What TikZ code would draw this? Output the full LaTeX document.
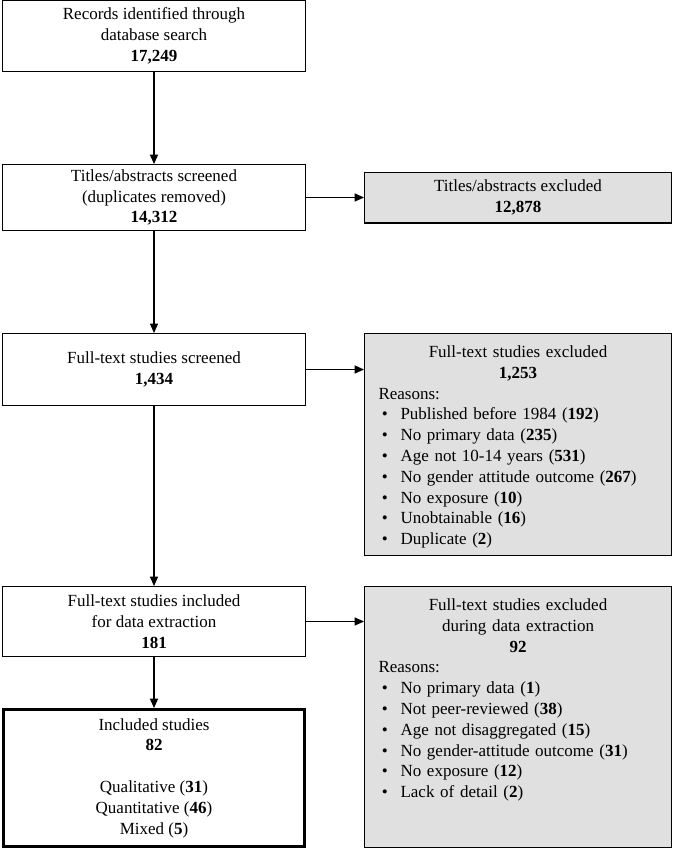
\documentclass[tikz,border=0pt]{standalone}
\usepackage{fontspec}
\setmainfont{Liberation Serif}
\usetikzlibrary{positioning,arrows.meta}
\tikzset{
  block/.style   = {draw, line width=0.8pt, fill=white, rectangle, align=center, minimum width=227.2pt, inner sep=3pt, font=\fontsize{12.75pt}{15.6pt}\selectfont},
  excl/.style    = {block, fill=black!12, minimum width=230.2pt},
  reasons/.style = {excl, align=left, text width=209.2pt, text height=10pt, inner xsep=10.5pt, inner ysep=8pt},
  final/.style   = {block, line width=2.6pt, minimum width=225.4pt},
}
\newcommand{\reason}[1]{\hspace*{2.5pt}\makebox[14pt][l]{\textbullet}#1}

\begin{document}
\begin{tikzpicture}[>={Triangle[length=7pt,width=6pt]}, line width=0.9pt]
    \useasboundingbox (0,0) rectangle (504.75pt,-637.5pt);
    \node [block, minimum height=53.2pt, anchor=north] (rec) at (115.5pt,0) {Records identified through\\ database search\\ \textbf{17,249}};
    \node [block, minimum height=49.45pt, below=69pt of rec] (scr) {Titles/abstracts screened\\ (duplicates removed)\\ \textbf{14,312}};
    \node [excl, minimum height=38.2pt, right=43.5pt of scr] (exA) {Titles/abstracts excluded\\ \textbf{12,878}};
    \node [block, minimum height=53.95pt, below=76.5pt of scr] (full) {Full-text studies screened\\ \textbf{1,434}};
    \node [reasons, text depth=140.45pt, right=43.5pt of full.north east, anchor=north west] (exB) {%
      \centerline{Full-text studies excluded}
      \centerline{\textbf{1,253}}
      Reasons:\\
      \reason{Published before 1984 (\textbf{192})}\\
      \reason{No primary data (\textbf{235})}\\
      \reason{Age not 10-14 years (\textbf{531})}\\
      \reason{No gender attitude outcome (\textbf{267})}\\
      \reason{No exposure (\textbf{10})}\\
      \reason{Unobtainable (\textbf{16})}\\
      \reason{Duplicate (\textbf{2})}};
    \node [block, minimum height=52.45pt, below=135pt of full] (incl) {Full-text studies included\\ for data extraction\\ \textbf{181}};
    \node [reasons, text depth=169.7pt, right=43.5pt of incl.north east, anchor=north west] (exC) {%
      \centerline{Full-text studies excluded}
      \centerline{during data extraction}
      \centerline{\textbf{92}}
      Reasons:\\
      \reason{No primary data (\textbf{1})}\\
      \reason{Not peer-reviewed (\textbf{38})}\\
      \reason{Age not disaggregated (\textbf{15})}\\
      \reason{No gender-attitude outcome (\textbf{31})}\\
      \reason{No exposure (\textbf{12})}\\
      \reason{Lack of detail (\textbf{2})}};
    \node [final, minimum height=102.4pt, below=38.25pt of incl] (final) {Included studies\\ \textbf{82}\\[15.6pt] Qualitative (\textbf{31})\\ Quantitative (\textbf{46})\\ Mixed (\textbf{5})};
    \draw [->] (rec) -- (scr);
    \draw [->] (scr) -- (exA);
    \draw [->] (scr) -- (full);
    \draw [->] (full.east) -- (full.east -| exB.west);
    \draw [->] (full) -- (incl);
    \draw [->] (incl.east) -- (incl.east -| exC.west);
    \draw [->] (incl) -- (final);
\end{tikzpicture}
\end{document}
